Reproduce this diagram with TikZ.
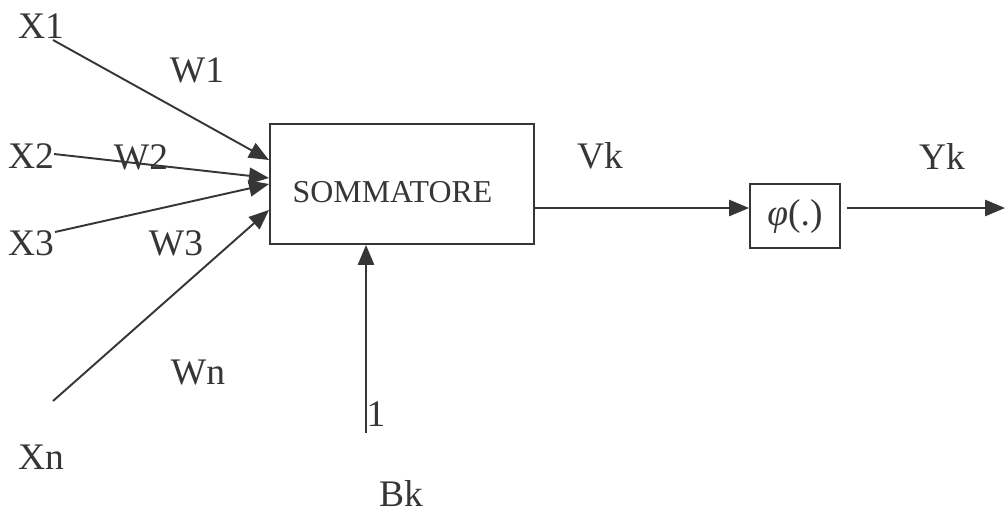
\documentclass[tikz,border=0pt]{standalone}
\usepackage{fontspec}
\setmainfont{Liberation Serif}
\usetikzlibrary{arrows.meta,calc,positioning}
\definecolor{ink}{HTML}{363638}

\begin{document}
\begin{tikzpicture}[x=0.32pt, y=-0.32pt, text=ink, line width=0.62pt,
  >={Triangle[length=6.4pt,width=5.2pt]},
  lbl/.style={font=\fontsize{12}{14}\selectfont, inner sep=0pt},
  block/.style={draw=ink, line width=0.62pt, inner sep=0pt},
  wire/.style={draw=ink, ->}]
  \useasboundingbox (0,0) rectangle (1006,513);

  % blocks
  \node[block, minimum width=84.5pt, minimum height=38.4pt] (sum) at (402,184) {};
  \node[font=\fontsize{10.2}{12}\selectfont, inner sep=0pt] (sumtxt) at (392.5,192) {SOMMATORE};
  \node[block, minimum width=28.8pt, minimum height=20.5pt, font=\fontsize{12}{14}\selectfont] (phi) at (795,216) {{\itshape φ}(.)};

  % inputs
  \coordinate (x1) at (53,40);
  \coordinate (x2) at (54,154);
  \coordinate (x3) at (55,232);
  \coordinate (xn) at (53,401);
  \coordinate (bias) at (366,433);
  \coordinate (yout) at (1005,208);

  \draw[wire] (x1) -- ($(sum.west)+(0,-24)$);
  \draw[wire] (x2) -- ($(sum.west)+(0,-6)$);
  \draw[wire] (x3) -- (sum.west);
  \draw[wire] (xn) -- ($(sum.west)+(0,26)$);
  \draw[wire] (bias) -- (bias |- sum.south);

  % output
  \draw[wire] ($(sum.east)+(0,24)$) -- ($(phi.west)+(0,-8)$);
  \draw[wire] ($(phi.east)+(6,-8)$) -- (yout);

  % labels
  \node[lbl] (lx1) at (41,26) {X1};
  \node[lbl] (lw1) at (197,70) {W1};
  \node[lbl] (lx2) at (31,156) {X2};
  \node[lbl] (lw2) at (141,157) {W2};
  \node[lbl] (lx3) at (31,243) {X3};
  \node[lbl] (lw3) at (176,243) {W3};
  \node[lbl] (lwn) at (198,372) {Wn};
  \node[lbl] (lxn) at (41,457) {Xn};
  \node[lbl] (lone) at (376,414) {1};
  \node[lbl] (lbk) at (401,494) {Bk};
  \node[lbl] (lvk) at (600,156) {Vk};
  \node[lbl] (lyk) at (942,156) {Yk};
\end{tikzpicture}
\end{document}
